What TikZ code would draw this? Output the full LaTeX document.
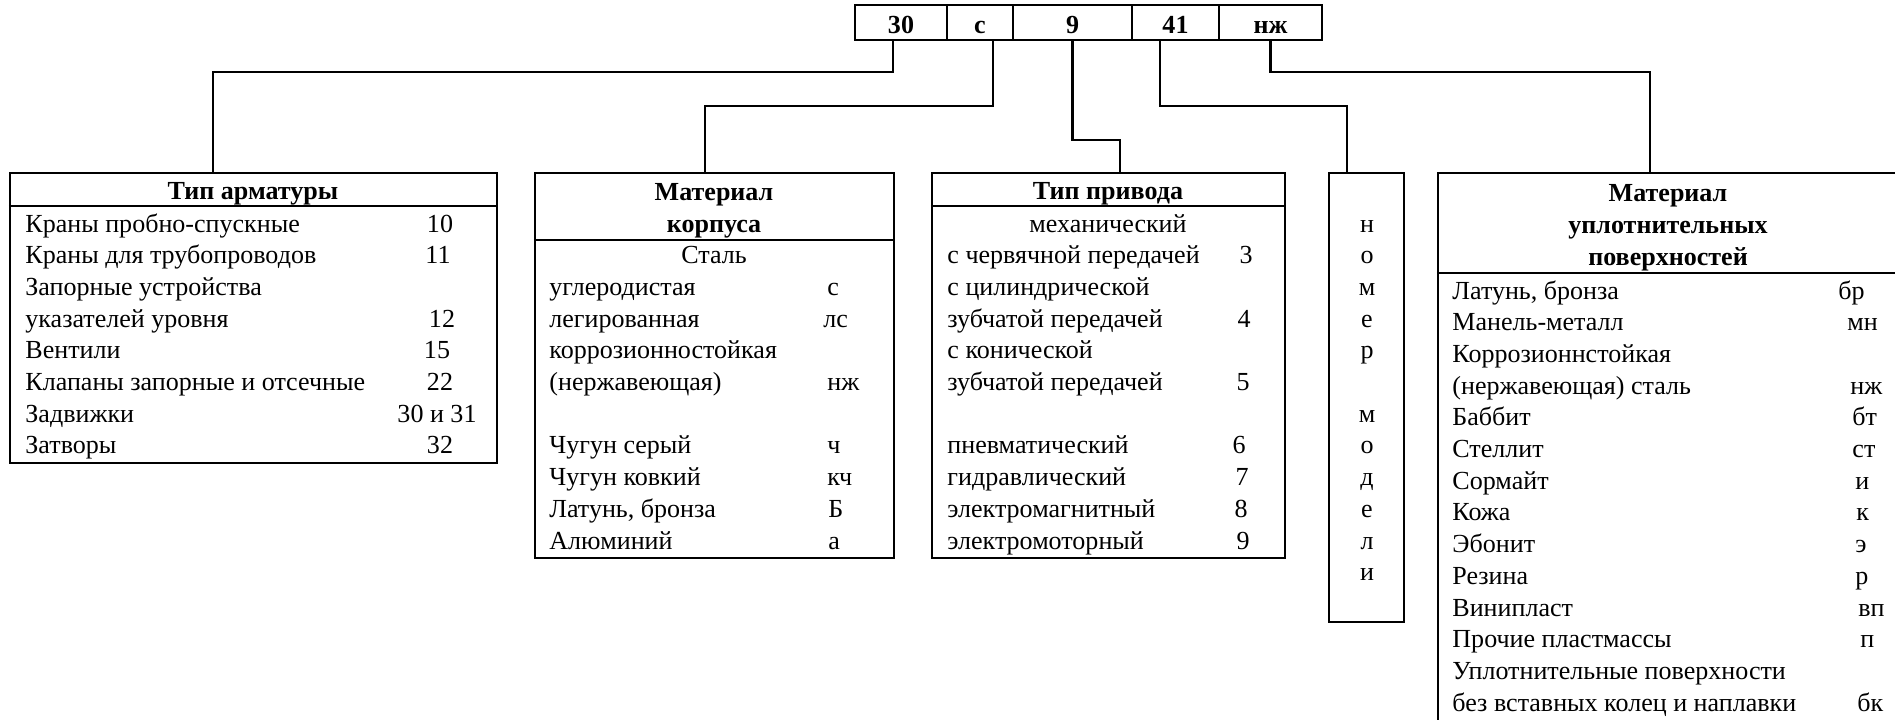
\documentclass[tikz,border=0pt]{standalone}
\usepackage{fontspec}
\setmainfont{Liberation Serif}
\usetikzlibrary{fit,calc}
\tikzset{
  box/.style={draw, line width=1.1pt, inner sep=0pt},
  frame/.style={line width=1.1pt},
  conn/.style={line width=1pt},
  txt/.style={inner sep=0pt, font=\fontsize{12.5}{15}\selectfont},
  hdr/.style={inner sep=0pt, font=\fontsize{12.5}{15}\selectfont\bfseries},
}
\begin{document}
\begin{tikzpicture}[x=0.48pt,y=-0.48pt]
\useasboundingbox (0,0) rectangle (1895,719);
\clip (0,0) rectangle (1895,719);

% ---- code cells ----
\node[box, fit={(855,5) (947,40)}] (c1) {};
\node[box, fit={(947,5) (1013,40)}] (c2) {};
\node[box, fit={(1013,5) (1132,40)}] (c3) {};
\node[box, fit={(1132,5) (1219,40)}] (c4) {};
\node[box, fit={(1219,5) (1322,40)}] (c5) {};
\node[hdr, anchor=base] (ct1) at (c1.center |- 0,33) {30};
\node[hdr, anchor=base] (ct2) at (c2.center |- 0,33) {с};
\node[hdr, anchor=base] (ct3) at (c3.center |- 0,33) {9};
\node[hdr, anchor=base] (ct4) at (c4.center |- 0,33) {41};
\node[hdr, anchor=base] (ct5) at (c5.center |- 0,33) {нж};

% ---- boxes ----
\node[box, fit={(10,173) (497,463)}] (b1) {};
\node[box, fit={(535,173) (894,558)}] (b2) {};
\node[box, fit={(932,173) (1285,558)}] (b3) {};
\node[box, fit={(1329,173) (1404,622)}] (b4) {};
\node[box, fit={(1438,173) (1905,735)}] (b5) {};
\draw[frame] (b1.west |- 0,206) -- (b1.east |- 0,206);
\draw[frame] (b2.west |- 0,240) -- (b2.east |- 0,240);
\draw[frame] (b3.west |- 0,206) -- (b3.east |- 0,206);
\draw[frame] (b5.west |- 0,273) -- (b5.east |- 0,273);

% ---- connectors ----
\draw[conn] (893,0 |- c1.south) |- (213,72) -- (213,0 |- b1.north);
\draw[conn] (993,0 |- c2.south) |- (705,106) -- (705,0 |- b2.north);
\draw[conn] (c3.south) |- (1120,140) -- (1120,0 |- b3.north);
\draw[conn] (1160,0 |- c4.south) |- (1347,106) -- (1347,0 |- b4.north);
\draw[conn] (c5.south) |- (1650,72) -- (1650,0 |- b5.north);

% ---- box 1 ----
\node[hdr, anchor=base] (h1) at (253,199) {Тип арматуры};
\foreach \n/\t in {0/{Краны пробно-спускные},1/{Краны для трубопроводов},2/{Запорные устройства},3/{указателей уровня},4/{Вентили},5/{Клапаны запорные и отсечные},6/{Задвижки},7/{Затворы}}
  \node[txt, anchor=base west] (b1t\n) at (25,{232+31.7*\n}) {\t};
\foreach \n/\t/\x in {0/10/440,1/11/438,3/12/442,4/15/437,5/22/440,6/{30 и 31}/437,7/32/440}
  \node[txt, anchor=base] (b1c\n) at (\x,{232+31.7*\n}) {\t};

% ---- box 2 ----
\node[hdr, anchor=base] (h2a) at (714,200) {Материал};
\node[hdr, anchor=base] (h2b) at (714,232) {корпуса};
\node[txt, anchor=base] (b2s) at (714,{232+31.7}) {Сталь};
\foreach \n/\t in {2/углеродистая,3/легированная,4/коррозионностойкая,5/(нержавеющая),7/{Чугун серый},8/{Чугун ковкий},9/{Латунь, бронза},10/Алюминий}
  \node[txt, anchor=base west] (b2t\n) at (549,{232+31.7*\n}) {\t};
\foreach \n/\t/\x in {2/с/827,3/лс/823,5/нж/827,7/ч/827,8/кч/827,9/Б/828,10/а/828}
  \node[txt, anchor=base west] (b2c\n) at (\x,{232+31.7*\n}) {\t};

% ---- box 3 ----
\node[hdr, anchor=base] (h3) at (1108,199) {Тип привода};
\node[txt, anchor=base] (b3m) at (1108,232) {механический};
\foreach \n/\t in {1/{с червячной передачей},2/{с цилиндрической},3/{зубчатой передачей},4/{с конической},5/{зубчатой передачей},7/пневматический,8/гидравлический,9/электромагнитный,10/электромоторный}
  \node[txt, anchor=base west] (b3t\n) at (947,{232+31.7*\n}) {\t};
\foreach \n/\t/\x in {1/3/1246,3/4/1244,5/5/1243,7/6/1239,8/7/1242,9/8/1241,10/9/1243}
  \node[txt, anchor=base] (b3c\n) at (\x,{232+31.7*\n}) {\t};

% ---- box 4 ----
\foreach \n/\t in {0/н,1/о,2/м,3/е,4/р,6/м,7/о,8/д,9/е,10/л,11/и}
  \node[txt, anchor=base] (b4t\n) at (1367,{232+31.7*\n}) {\t};

% ---- box 5 ----
\node[hdr, anchor=base] (h5a) at (1668,201) {Материал};
\node[hdr, anchor=base] (h5b) at (1668,233) {уплотнительных};
\node[hdr, anchor=base] (h5c) at (1668,265) {поверхностей};
\foreach \k/\t in {0/{Латунь, бронза},1/Манель-металл,2/Коррозионнстойкая,3/{(нержавеющая) сталь},4/Баббит,5/Стеллит,6/Сормайт,7/Кожа,8/Эбонит,9/Резина,10/Винипласт,11/{Прочие пластмассы},12/{Уплотнительные поверхности},13/{без вставных колец и наплавки}}
  \node[txt, anchor=base west] (b5t\k) at (1452,{299+31.7*\k}) {\t};
\foreach \k/\t/\x in {0/бр/1838,1/мн/1847,3/нж/1850,4/бт/1852,5/ст/1852,6/и/1855,7/к/1856,8/э/1855,9/р/1855,10/вп/1858,11/п/1860,13/бк/1857}
  \node[txt, anchor=base west] (b5c\k) at (\x,{299+31.7*\k}) {\t};
\end{tikzpicture}
\end{document}
